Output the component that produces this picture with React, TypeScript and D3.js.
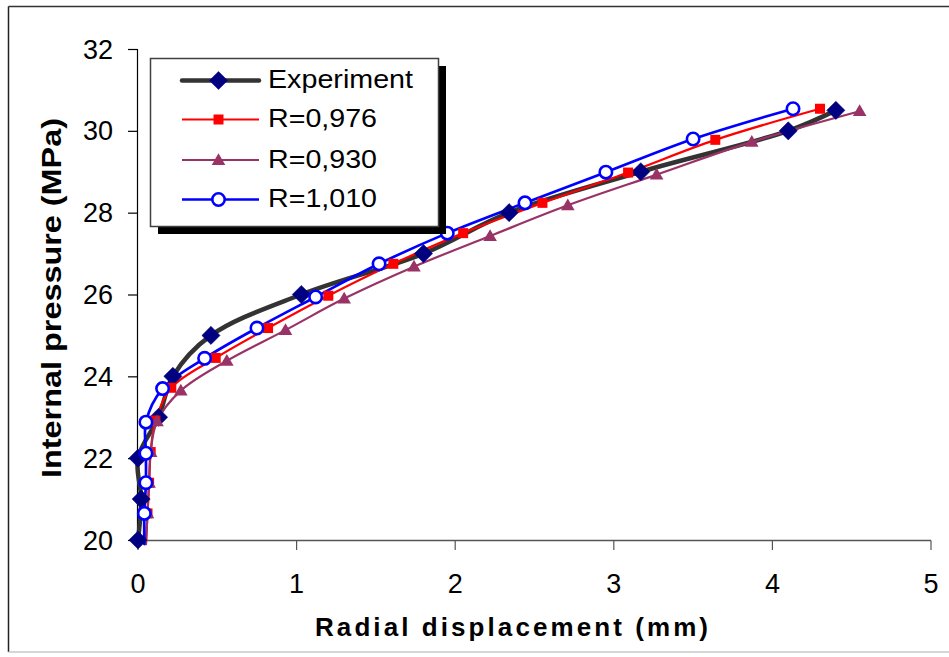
import React from "react";
import * as d3 from "d3";

const xTicks = [0, 1, 2, 3, 4, 5];
const yTicks = [20, 22, 24, 26, 28, 30, 32];

const experiment: [number, number][] = [
  [0, 20], [0.02, 21], [0, 22], [0.13, 23], [0.22, 24], [0.46, 25],
  [1.03, 26], [1.8, 27], [2.34, 28], [3.17, 29], [4.1, 30], [4.4, 30.5],
];
const r0976: [number, number][] = [
  [0.05, 19.9], [0.06, 20.65], [0.07, 21.4], [0.08, 22.15], [0.11, 22.92],
  [0.21, 23.72], [0.49, 24.45], [0.82, 25.18], [1.2, 25.97], [1.61, 26.75],
  [2.05, 27.5], [2.55, 28.24], [3.09, 28.98], [3.64, 29.78], [4.3, 30.54],
];
const r0930: [number, number][] = [
  [0.05, 19.9], [0.06, 20.65], [0.07, 21.4], [0.08, 22.15], [0.12, 22.9],
  [0.27, 23.65], [0.56, 24.38], [0.93, 25.13], [1.3, 25.9], [1.74, 26.68],
  [2.22, 27.43], [2.71, 28.18], [3.27, 28.93], [3.87, 29.73], [4.55, 30.48],
];
const r1010: [number, number][] = [
  [0.04, 19.9], [0.04, 20.65], [0.05, 21.4], [0.05, 22.12], [0.05, 22.88],
  [0.155, 23.7], [0.42, 24.44], [0.75, 25.18], [1.12, 25.94], [1.52, 26.75],
  [1.95, 27.5], [2.44, 28.24], [2.95, 28.99], [3.5, 29.8], [4.13, 30.54],
];

const seriesNames = ["Experiment", "R=0,976", "R=0,930", "R=1,010"];

type Marker = "diamond" | "square" | "triangle" | "circle";
const series: { name: string; data: [number, number][]; line: string; width: number; marker: Marker; mfill: string; mstroke: string }[] = [
  { name: seriesNames[0], data: experiment, line: "#333333", width: 4.5, marker: "diamond", mfill: "#000080", mstroke: "#000080" },
  { name: seriesNames[1], data: r0976, line: "#FF0000", width: 2.2, marker: "square", mfill: "#FF0000", mstroke: "#FF0000" },
  { name: seriesNames[2], data: r0930, line: "#993366", width: 2.2, marker: "triangle", mfill: "#993366", mstroke: "#993366" },
  { name: seriesNames[3], data: r1010, line: "#0000FF", width: 2.7, marker: "circle", mfill: "#FFFFFF", mstroke: "#0000FF" },
];

const FONT = "'Liberation Sans', Arial, sans-serif";

function MarkerShape({ type, x, y, fill, stroke }: { type: Marker; x: number; y: number; fill: string; stroke: string }) {
  if (type === "diamond") {
    const p = d3.symbol(d3.symbolSquare, 165)();
    return <path d={p || ""} transform={`translate(${x},${y}) rotate(45)`} fill={fill} stroke={stroke} strokeWidth={0.5} />;
  }
  if (type === "square") {
    const p = d3.symbol(d3.symbolSquare, 100)();
    return <path d={p || ""} transform={`translate(${x},${y})`} fill={fill} />;
  }
  if (type === "triangle") {
    const p = d3.symbol(d3.symbolTriangle, 80)();
    return <path d={p || ""} transform={`translate(${x},${y + 1})`} fill={fill} />;
  }
  return <circle cx={x} cy={y} r={6.2} fill={fill} stroke={stroke} strokeWidth={2.6} />;
}

export default function App() {
  const W = 949;
  const H = 657;
  const x = d3.scaleLinear().domain([0, 5]).range([138, 931]);
  const y = d3.scaleLinear().domain([20, 32]).range([540, 49]);
  const line = d3
    .line<[number, number]>()
    .x((d) => x(d[0]))
    .y((d) => y(d[1]))
    .curve(d3.curveCatmullRom.alpha(0.5));

  const legendX = 150;
  const legendY = 58;
  const legendW = 288;
  const legendH = 168;
  const legendRowY = [80.5, 119.5, 160, 199.5];
  const legendTextLen = [145, 109, 109, 109];

  return (
    <svg
      width={W}
      height={H}
      style={{ position: "absolute", left: 0, top: 0, display: "block", background: "#fff" }}
      fontFamily={FONT}
    >
      <rect x={0} y={0} width={W} height={H} fill="#fff" />
      {/* outer frame */}
      <line x1={8.5} y1={6.5} x2={W} y2={6.5} stroke="#333" strokeWidth={1.5} />
      <line x1={8.5} y1={6.5} x2={8.5} y2={652} stroke="#222" strokeWidth={1.5} />
      <line x1={8.5} y1={652} x2={W} y2={652} stroke="#c8c8c8" strokeWidth={1.5} />

      {/* axes */}
      <line x1={137.5} y1={y(32)} x2={137.5} y2={540.5} stroke="#000" strokeWidth={1.2} />
      <line x1={137.5} y1={540.5} x2={x(5)} y2={540.5} stroke="#555" strokeWidth={1.3} />
      {yTicks.map((t) => (
        <g key={"y" + t}>
          <line x1={128} x2={137.5} y1={y(t) + 0.5} y2={y(t) + 0.5} stroke="#000" strokeWidth={1.2} />
          <text x={113} y={y(t) + 9.5} textAnchor="end" fontSize={27} fill="#000">
            {t}
          </text>
        </g>
      ))}
      {xTicks.map((t) => (
        <g key={"x" + t}>
          <line x1={x(t)} x2={x(t)} y1={540.5} y2={550} stroke="#555" strokeWidth={1.2} />
          <text x={x(t)} y={592.5} textAnchor="middle" fontSize={27} fill="#000">
            {t}
          </text>
        </g>
      ))}

      {/* axis titles */}
      <text
        x={315}
        y={636}
        fontSize={26}
        fontWeight="bold"
        textLength={393}
        lengthAdjust="spacing"
        fill="#000"
      >
        Radial displacement (mm)
      </text>
      <text
        transform={`translate(61,298) rotate(-90)`}
        textAnchor="middle"
        fontSize={28}
        fontWeight="bold"
        textLength={360}
        lengthAdjust="spacingAndGlyphs"
        fill="#000"
      >
        Internal pressure (MPa)
      </text>

      {/* series lines */}
      {series.map((s) => (
        <path key={"l" + s.name} d={line(s.data) || ""} fill="none" stroke={s.line} strokeWidth={s.width} strokeLinejoin="round" strokeLinecap="round" />
      ))}
      {/* markers */}
      {series.map((s) => (
        <g key={"m" + s.name}>
          {s.data
            .filter((d) => d[1] >= 20 && d[1] <= 32)
            .map((d, i) => (
              <MarkerShape key={i} type={s.marker} x={x(d[0])} y={y(d[1])} fill={s.mfill} stroke={s.mstroke} />
            ))}
        </g>
      ))}

      {/* legend */}
      <rect x={legendX + 8} y={legendY + 8} width={legendW} height={legendH} fill="#000" />
      <rect x={legendX + 0.5} y={legendY + 0.5} width={legendW} height={legendH} fill="#fff" stroke="#404040" strokeWidth={1.5} />
      {series.map((s, i) => (
        <g key={"lg" + s.name}>
          <line x1={182} x2={259} y1={legendRowY[i]} y2={legendRowY[i]} stroke={s.line} strokeWidth={s.width} strokeLinecap={i === 0 ? "round" : "butt"} />
          <MarkerShape type={s.marker} x={218.5} y={legendRowY[i]} fill={s.mfill} stroke={s.mstroke} />
          <text
            x={268}
            y={legendRowY[i] + 7.5}
            fontSize={25}
            fill="#000"
            textLength={legendTextLen[i]}
            lengthAdjust="spacingAndGlyphs"
          >
            {s.name}
          </text>
        </g>
      ))}
    </svg>
  );
}
